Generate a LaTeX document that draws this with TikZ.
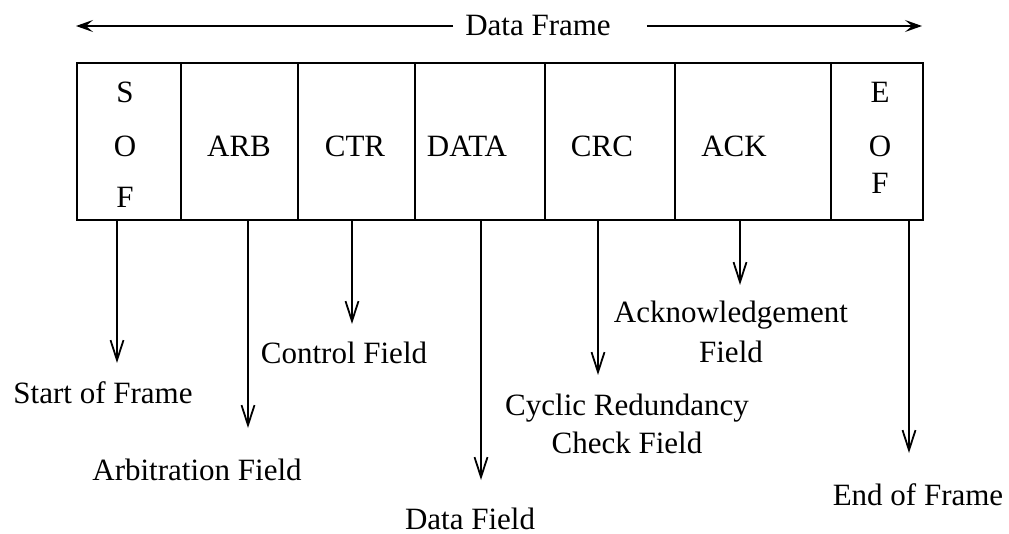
\documentclass[tikz,border=0pt]{standalone}
\usepackage{fontspec}
\setmainfont{Liberation Serif}
\usetikzlibrary{arrows.meta}
\begin{document}
\begin{tikzpicture}[x=1pt,y=-1pt,
  lbl/.style={inner sep=0pt, anchor=base, font=\fontsize{31}{38}\selectfont},
  cell/.style={draw, line width=2.4pt, rectangle, inner sep=0pt, outer sep=0pt, anchor=north west, minimum height=157pt},
  downar/.style={line width=1.8pt, -{Straight Barb[length=20pt,width=13pt,line width=1.8pt]}},
  topar/.style={line width=1.8pt, -{Stealth[length=17pt,width=12pt,inset=7pt]}}]
\useasboundingbox (0,0) rectangle (1009,534);
% frame cells
\node[cell, minimum width=104pt] (sof)  at (77,63)  {};
\node[cell, minimum width=117pt] (arb)  at (181,63) {};
\node[cell, minimum width=117pt] (ctr)  at (298,63) {};
\node[cell, minimum width=130pt] (data) at (415,63) {};
\node[cell, minimum width=130pt] (crc)  at (545,63) {};
\node[cell, minimum width=156pt] (ack)  at (675,63) {};
\node[cell, minimum width=92pt]  (eof)  at (831,63) {};
% cell texts
\node[lbl] (s1) at (125,103) {S};
\node[lbl] (s2) at (125,157) {O};
\node[lbl] (s3) at (125,208) {F};
\node[lbl] (tarb) at (239,157) {ARB};
\node[lbl] (tctr) at (355,157) {CTR};
\node[lbl] (tdata) at (467,157) {DATA};
\node[lbl] (tcrc) at (602,157) {CRC};
\node[lbl] (tack) at (734,157) {ACK};
\node[lbl] (e1) at (880,103) {E};
\node[lbl] (e2) at (880,157) {O};
\node[lbl] (e3) at (880,194) {F};
% title arrow
\node[lbl] (df) at (538,36) {Data Frame};
\coordinate (lend) at (76,25);
\coordinate (rend) at (922,25);
\draw[topar] ([xshift=-12pt]df.west) -- (df.west -| lend);
\draw[topar] ([xshift=36pt]df.east) -- (df.east -| rend);
% arrow tips
\coordinate (t1) at (117,363);
\coordinate (t2) at (248,428);
\coordinate (t3) at (352,324);
\coordinate (t4) at (481,480);
\coordinate (t5) at (598,375);
\coordinate (t6) at (740,285);
\coordinate (t7) at (909,453);
\draw[downar] (sof.south -| t1) -- (t1);
\draw[downar] (arb.south -| t2) -- (t2);
\draw[downar] (ctr.south -| t3) -- (t3);
\draw[downar] (data.south -| t4) -- (t4);
\draw[downar] (crc.south -| t5) -- (t5);
\draw[downar] (ack.south -| t6) -- (t6);
\draw[downar] (eof.south -| t7) -- (t7);
% labels
\node[lbl] (l1) at (103,403) {Start of Frame};
\node[lbl] (l2) at (197,480) {Arbitration Field};
\node[lbl] (l3) at (344,363) {Control Field};
\node[lbl] (l4) at (470,529) {Data Field};
\node[lbl] (l5) at (627,415) {\begin{tabular}[t]{@{}c@{}}Cyclic Redundancy\\Check Field\end{tabular}};
\node[lbl, font=\fontsize{31}{40}\selectfont] (l6) at (731,323) {\begin{tabular}[t]{@{}c@{}}Acknowledgement\\Field\end{tabular}};
\node[lbl] (l7) at (918,505) {End of Frame};
\end{tikzpicture}
\end{document}
